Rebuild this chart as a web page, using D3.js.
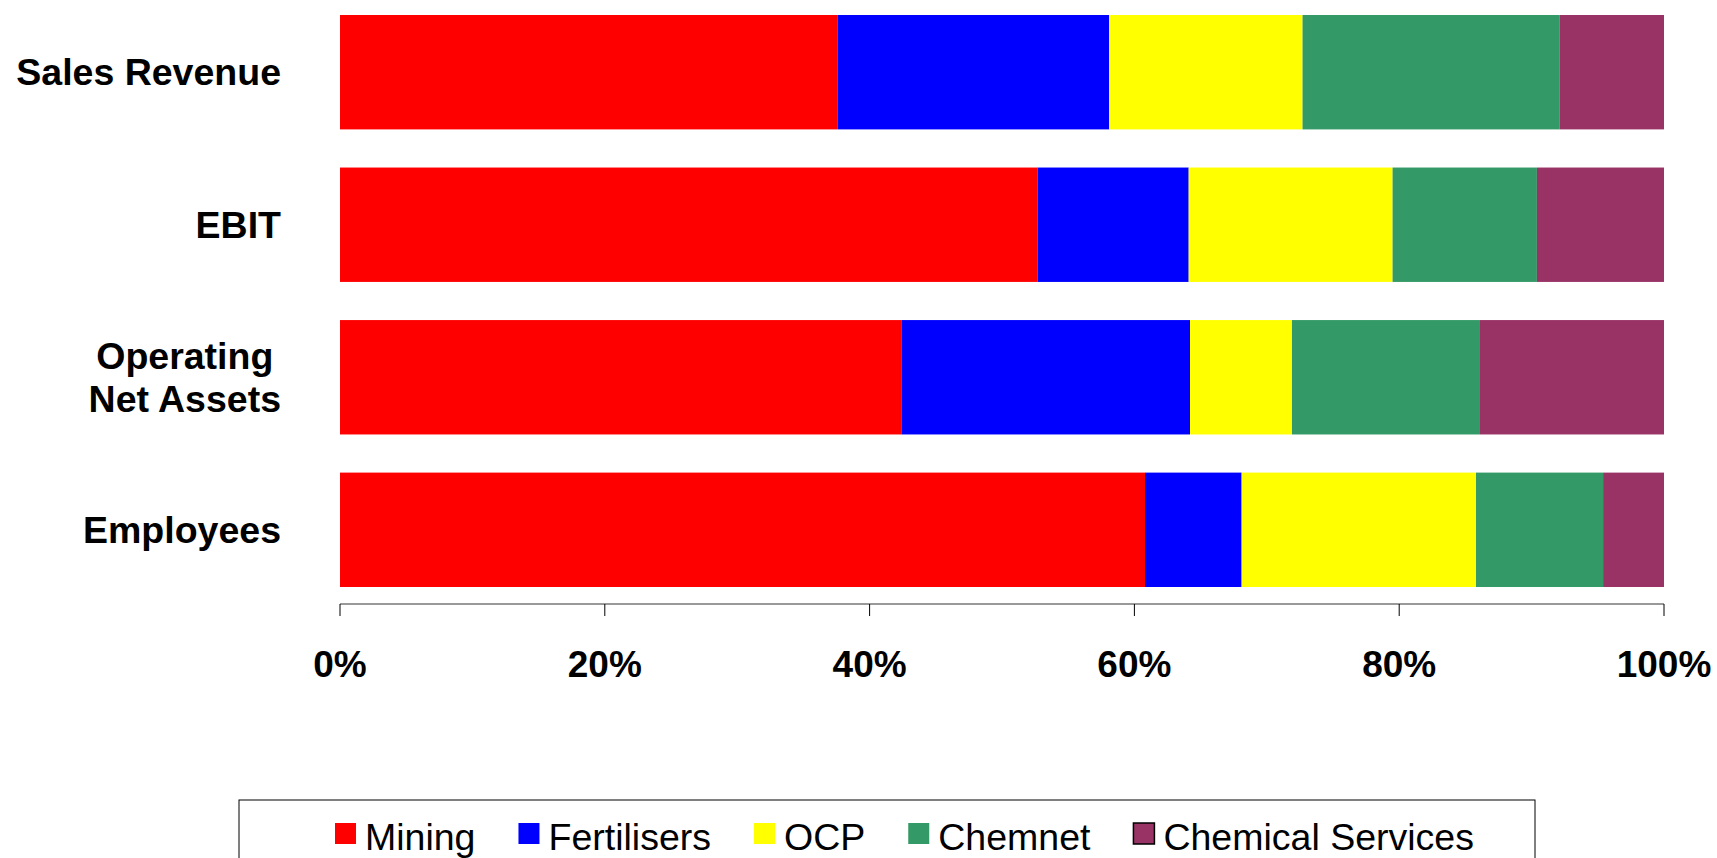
<!DOCTYPE html>
<html>
<head>
<meta charset="utf-8">
<script src="https://cdn.jsdelivr.net/npm/d3@7"></script>
<style>
  body { margin: 0; background: #fff; }
  text { font-family: "Liberation Sans", Arial, sans-serif; }
</style>
</head>
<body>
<div id="chart"></div>
<script>
const categories = ["Sales Revenue", "EBIT", "Operating\nNet Assets", "Employees"];
const segments = ["Mining", "Fertilisers", "OCP", "Chemnet", "Chemical Services"];
const colors = ["#ff0000", "#0000ff", "#ffff00", "#339966", "#993366"];

// share of each segment, in percent
const mining      = [37.6, 52.7, 42.4, 60.8];
const fertilisers = [20.5, 11.4, 21.8, 7.3];
const ocp         = [14.6, 15.4, 7.7, 17.7];
const chemnet     = [19.4, 10.9, 14.2, 9.6];
const chemServ    = [7.9, 9.6, 13.9, 4.6];

const ticks = [0, 20, 40, 60, 80, 100];

const width = 1717, height = 858;
const series = [mining, fertilisers, ocp, chemnet, chemServ];

const rows = categories.map((c, i) => {
  const r = {cat: c};
  segments.forEach((s, k) => r[s] = series[k][i]);
  return r;
});

const stack = d3.stack().keys(segments).offset(d3.stackOffsetExpand);
const stacked = stack(rows);

const x = d3.scaleLinear().domain([0, 1]).range([340, 1664]);
const y = d3.scaleBand().domain(categories).range([15, 587]).paddingInner(0.25).paddingOuter(0);

const svg = d3.select("#chart").append("svg")
  .attr("width", width)
  .attr("height", height);

svg.append("g")
  .selectAll("g")
  .data(stacked)
  .enter().append("g")
  .attr("fill", (d, i) => colors[i])
  .selectAll("rect")
  .data(d => d)
  .enter().append("rect")
  .attr("x", d => x(d[0]))
  .attr("width", d => x(d[1]) - x(d[0]))
  .attr("y", d => y(d.data.cat))
  .attr("height", y.bandwidth());

// x axis
const axisY = 604;
const axis = svg.append("g");
axis.append("line")
  .attr("x1", x(0)).attr("x2", x(1))
  .attr("y1", axisY).attr("y2", axisY)
  .attr("stroke", "#777")
  .attr("stroke-width", 1.5);
axis.selectAll(".tick")
  .data(ticks)
  .enter().append("line")
  .attr("x1", d => x(d / 100)).attr("x2", d => x(d / 100))
  .attr("y1", axisY).attr("y2", axisY + 12)
  .attr("stroke", "#000")
  .attr("stroke-width", 1);
axis.selectAll(".tl")
  .data(ticks)
  .enter().append("text")
  .attr("x", d => x(d / 100))
  .attr("y", 677)
  .attr("text-anchor", "middle")
  .attr("font-weight", "bold")
  .attr("font-size", "37px")
  .text(d => d + "%");

// category labels
const labelRight = 281;
categories.forEach(c => {
  const lines = c.split("\n");
  const cy = y(c) + y.bandwidth() / 2;
  const lh = 43;
  const g = svg.append("g");
  const ts = lines.map((l, j) => g.append("text")
    .attr("y", cy + (j - (lines.length - 1) / 2) * lh + 13)
    .attr("font-weight", "bold")
    .attr("font-size", "37.5px")
    .text(l));
  const w = d3.max(ts, t => t.node().getComputedTextLength());
  ts.forEach(t => t.attr("x", labelRight - w / 2).attr("text-anchor", "middle"));
});

// legend
const legend = svg.append("g");
legend.append("rect")
  .attr("x", 239).attr("y", 800)
  .attr("width", 1296).attr("height", 80)
  .attr("fill", "#fff")
  .attr("stroke", "#000")
  .attr("stroke-width", 1);

let lx = 335;
segments.forEach((s, i) => {
  legend.append("rect")
    .attr("x", lx).attr("y", 823)
    .attr("width", 21).attr("height", 21)
    .attr("fill", colors[i])
    .attr("stroke", i === 4 ? "#000" : "none")
    .attr("stroke-width", 1.5);
  const t = legend.append("text")
    .attr("x", lx + 30).attr("y", 850)
    .attr("font-size", "37.5px")
    .text(s);
  lx += 30 + t.node().getComputedTextLength() + 43;
});
</script>
</body>
</html>
